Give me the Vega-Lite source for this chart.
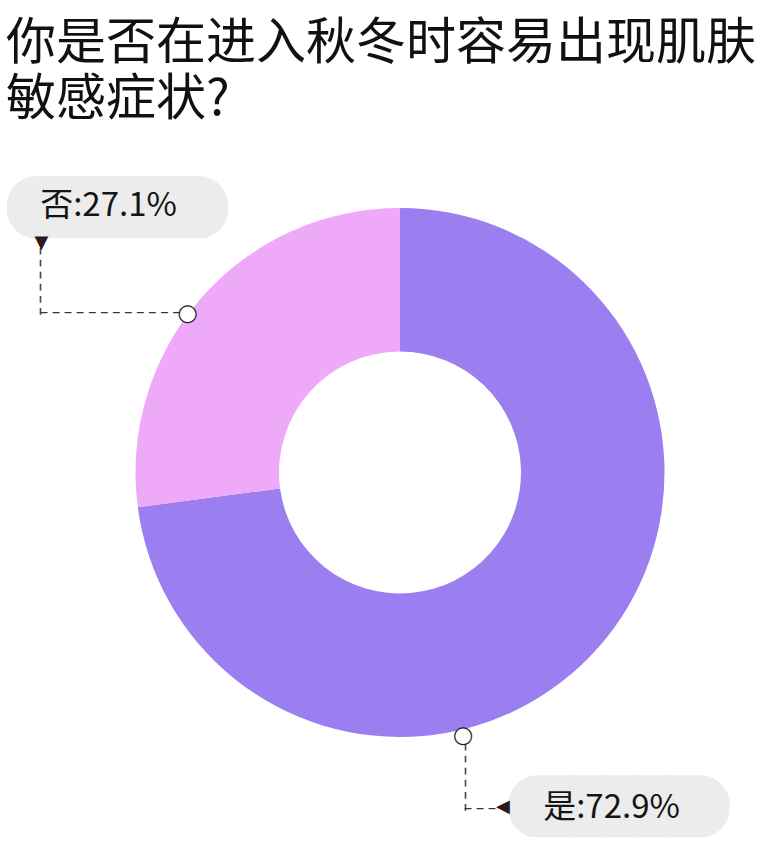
{
  "$schema": "https://vega.github.io/schema/vega-lite/v6.json",
  "width": 724,
  "height": 685,
  "autosize": {"type": "none"},
  "padding": {"left": 38, "top": 130, "right": 0, "bottom": 40},
  "background": "white",
  "title": {
    "text": ["你是否在进入秋冬时容易出现肌肤", "敏感症状?"],
    "anchor": "start",
    "frame": "group",
    "font": "Noto Sans CJK SC",
    "fontSize": 50,
    "fontWeight": "normal",
    "color": "#111111",
    "lineHeight": 56,
    "offset": 5,
    "dx": -32
  },
  "data": {
    "values": [
      {"answer": "是", "value": 72.9, "label": "是:72.9%", "idx": 1},
      {"answer": "否", "value": 27.1, "label": "否:27.1%", "idx": 2}
    ]
  },
  "transform": [
    {"stack": "value", "groupby": [], "sort": [{"field": "idx", "order": "ascending"}], "as": ["v0", "v1"]}
  ],
  "layer": [
    {
      "mark": {"type": "arc", "outerRadius": 264.5, "innerRadius": 121, "stroke": null},
      "encoding": {
        "theta": {"field": "v0", "type": "quantitative", "stack": null, "scale": {"domain": [0, 100]}},
        "theta2": {"field": "v1"},
        "color": {"field": "answer", "type": "nominal", "scale": {"domain": ["是", "否"], "range": ["#9b7ef0", "#eeaaf8"]}, "legend": null}
      }
    },
    {
      "transform": [{"filter": "datum.answer === '否'"}],
      "mark": {"type": "text", "radius": 264.5, "text": "─ ─ ─ ─ ─ ─", "font": "DejaVu Sans Mono", "fontSize": 10, "angle": 90, "align": "left", "baseline": "middle", "dx": -259.3, "dy": 97.3, "color": "#333333", "stroke": "#333333", "strokeWidth": 0.5},
      "encoding": {"theta": {"field": "v0", "type": "quantitative", "stack": null}}
    },
    {
      "transform": [{"filter": "datum.answer === '否'"}],
      "mark": {"type": "text", "radius": 264.5, "text": "─ ─ ─ ─ ─ ─ ─ ─ ─ ─ ─ ─", "font": "DejaVu Sans Mono", "fontSize": 10, "align": "left", "baseline": "middle", "dx": -96.8, "dy": -193.8, "color": "#333333", "stroke": "#333333", "strokeWidth": 0.5},
      "encoding": {"theta": {"field": "v0", "type": "quantitative", "stack": null}}
    },
    {
      "transform": [{"filter": "datum.answer === '是'"}],
      "mark": {"type": "text", "radius": 264.5, "text": "─ ─ ─ ─ ─ ─", "font": "DejaVu Sans Mono", "fontSize": 10, "angle": 90, "align": "left", "baseline": "middle", "dx": 536, "dy": -64.5, "color": "#333333", "stroke": "#333333", "strokeWidth": 0.5},
      "encoding": {"theta": {"field": "v0", "type": "quantitative", "stack": null}}
    },
    {
      "transform": [{"filter": "datum.answer === '是'"}],
      "mark": {"type": "text", "radius": 264.5, "text": "─ ─ ─", "font": "DejaVu Sans Mono", "fontSize": 10, "align": "left", "baseline": "middle", "dx": 65, "dy": 600.5, "color": "#333333", "stroke": "#333333", "strokeWidth": 0.5},
      "encoding": {"theta": {"field": "v0", "type": "quantitative", "stack": null}}
    },
    {
      "transform": [{"filter": "datum.answer === '否'"}],
      "mark": {"type": "text", "radius": 264.5, "text": "●", "font": "DejaVu Sans", "fontSize": 22, "align": "center", "baseline": "middle", "dx": 49.7, "dy": -194.3, "fill": "#ffffff", "stroke": "#222222", "strokeWidth": 1.2},
      "encoding": {"theta": {"field": "v0", "type": "quantitative", "stack": null}}
    },
    {
      "transform": [{"filter": "datum.answer === '是'"}],
      "mark": {"type": "text", "radius": 264.5, "text": "●", "font": "DejaVu Sans", "fontSize": 22, "align": "center", "baseline": "middle", "dx": 63, "dy": 527, "fill": "#ffffff", "stroke": "#222222", "strokeWidth": 1.2},
      "encoding": {"theta": {"field": "v0", "type": "quantitative", "stack": null}}
    },
    {
      "transform": [{"filter": "datum.answer === '否'"}],
      "mark": {"type": "text", "radius": 264.5, "text": "─────", "font": "DejaVu Sans Mono", "fontSize": 54, "align": "center", "baseline": "middle", "dx": -20.3, "dy": -297.6, "fill": "#ececec", "stroke": "#ececec", "strokeWidth": 57.5, "strokeJoin": "round"},
      "encoding": {"theta": {"field": "v0", "type": "quantitative", "stack": null}}
    },
    {
      "transform": [{"filter": "datum.answer === '是'"}],
      "mark": {"type": "text", "radius": 264.5, "text": "─────", "font": "DejaVu Sans Mono", "fontSize": 54, "align": "center", "baseline": "middle", "dx": 219, "dy": 600.7, "fill": "#ececec", "stroke": "#ececec", "strokeWidth": 57.5, "strokeJoin": "round"},
      "encoding": {"theta": {"field": "v0", "type": "quantitative", "stack": null}}
    },
    {
      "transform": [{"filter": "datum.answer === '否'"}],
      "mark": {"type": "text", "radius": 264.5, "text": "▼", "font": "DejaVu Sans", "fontSize": 18, "align": "center", "baseline": "middle", "dx": -96.3, "dy": -264.3, "color": "#2b1a1a"},
      "encoding": {"theta": {"field": "v0", "type": "quantitative", "stack": null}}
    },
    {
      "transform": [{"filter": "datum.answer === '是'"}],
      "mark": {"type": "text", "radius": 264.5, "text": "◀", "font": "DejaVu Sans", "fontSize": 18, "align": "center", "baseline": "middle", "dx": 103, "dy": 599.1, "color": "#2b1a1a"},
      "encoding": {"theta": {"field": "v0", "type": "quantitative", "stack": null}}
    },
    {
      "transform": [{"filter": "datum.answer === '否'"}],
      "mark": {"type": "text", "radius": 264.5, "font": "Noto Sans CJK SC", "fontSize": 33, "align": "center", "baseline": "middle", "dx": -29.3, "dy": -301.4, "color": "#141414"},
      "encoding": {"theta": {"field": "v0", "type": "quantitative", "stack": null}, "text": {"field": "label"}}
    },
    {
      "transform": [{"filter": "datum.answer === '是'"}],
      "mark": {"type": "text", "radius": 264.5, "font": "Noto Sans CJK SC", "fontSize": 33, "align": "center", "baseline": "middle", "dx": 211.5, "dy": 599.9, "color": "#141414"},
      "encoding": {"theta": {"field": "v0", "type": "quantitative", "stack": null}, "text": {"field": "label"}}
    }
  ],
  "config": {"view": {"stroke": null}}
}
